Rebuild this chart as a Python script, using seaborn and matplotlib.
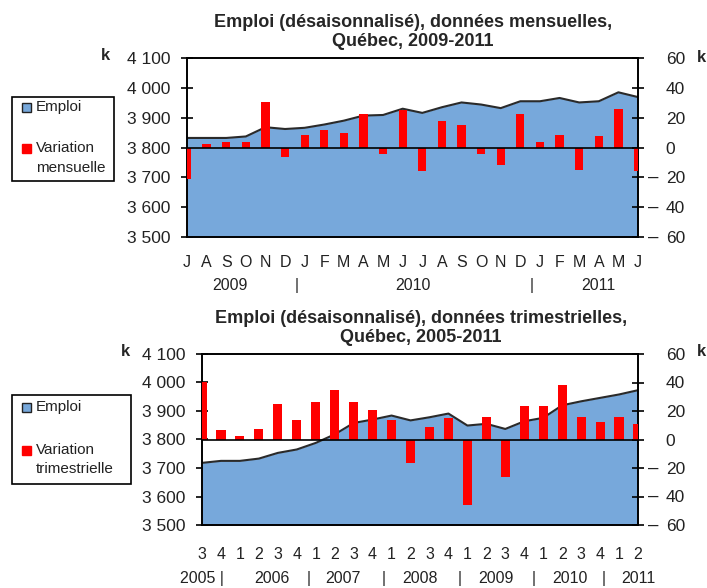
import numpy as np
import pandas as pd
import matplotlib
matplotlib.use("Agg")
import matplotlib.pyplot as plt
import seaborn as sns
from matplotlib.patches import Rectangle
from matplotlib.ticker import FuncFormatter

# --- données mensuelles (juil. 2009 - juin 2011) ---
mois = ["J", "A", "S", "O", "N", "D", "J", "F", "M", "A", "M", "J",
        "J", "A", "S", "O", "N", "D", "J", "F", "M", "A", "M", "J"]
emploi_m = [3832, 3832, 3832, 3837, 3868, 3862, 3866, 3877, 3890, 3907, 3909, 3930,
            3916, 3935, 3951, 3944, 3932, 3955, 3955, 3966, 3951, 3955, 3985, 3969]
variation_m = [-21, 2.2, 3.6, 3.6, 30.6, -6.7, 8.3, 11.8, 9.4, 22.3, -4.5, 25,
               -16, 17.7, 15.4, -4.5, -11.4, 22.3, 3.6, 8.3, -15, 7.4, 26, -16]
annees_m = [(2.2, "2009"), (5.6, "|"), (11.5, "2010"), (17.6, "|"), (21.0, "2011")]

# --- données trimestrielles (T3 2005 - T2 2011) ---
trim = ["3", "4", "1", "2", "3", "4", "1", "2", "3", "4", "1", "2",
        "3", "4", "1", "2", "3", "4", "1", "2", "3", "4", "1", "2"]
emploi_t = [3718, 3725, 3725, 3733, 3753, 3765, 3788, 3818, 3858, 3870, 3884, 3867,
            3878, 3891, 3849, 3855, 3837, 3864, 3876, 3920, 3934, 3946, 3958, 3973]
variation_t = [40.2, 6.5, 2.8, 7.5, 24.6, 13.8, 26, 34.4, 26, 20.8, 13.8, -16.8,
               8.9, 15, -46, 15.9, -26.4, 23.4, 23.4, 38, 15.9, 12.4, 15.9, 11.2]
annees_t = [(0.0, "2005 |"), (3.7, "2006"), (5.6, "|"), (7.45, "2007"), (9.6, "|"),
            (11.5, "2008"), (13.6, "|"), (15.5, "2009"), (17.5, "|"), (19.4, "2010"),
            (21.2, "|"), (23.0, "2011")]

BLEU = "#77a8db"
ROUGE = "#ff0000"
TXT = "#222222"
W, H = 707, 588

sns.set_style("white")
plt.rcParams["font.family"] = ["Liberation Sans", "DejaVu Sans"]

fig = plt.figure(figsize=(W / 100, H / 100), dpi=100)


def fx(px):
    return px / W


def fy(py):
    return 1 - py / H


def legende(box, items):
    # box = (x0, y0, x1, y1) en pixels ; items = (couleur, bord, y carré, [(y, texte)])
    x0, y0, x1, y1 = box
    fig.patches.append(Rectangle((fx(x0), fy(y1)), fx(x1 - x0), (y1 - y0) / H,
                                 transform=fig.transFigure, fill=False,
                                 edgecolor="black", lw=1.2))
    for coul, bord, ysq, textes in items:
        fig.patches.append(Rectangle((fx(x0 + 10), fy(ysq + 4.5)), fx(9), 9 / H,
                                     transform=fig.transFigure, facecolor=coul,
                                     edgecolor=bord, lw=1))
        for yt, t in textes:
            fig.text(fx(x0 + 24), fy(yt), t, ha="left", va="center",
                     fontsize=11, color=TXT)


def panneau(rect, emploi, variation, labels, annees, bar_w, pad_x, year_y):
    ax = fig.add_axes(rect)
    n = len(emploi)
    df = pd.DataFrame({"x": np.arange(n), "emploi": emploi, "variation": variation})

    ax.fill_between(df["x"], 3500, df["emploi"], color=BLEU, lw=0, zorder=1)
    sns.lineplot(data=df, x="x", y="emploi", ax=ax, color="#2a2a2a", lw=1.5, zorder=2)
    ax.set_ylim(3500, 4100)
    ax.set_yticks(np.arange(3500, 4101, 100))
    ax.yaxis.set_major_formatter(FuncFormatter(lambda v, p: f"{int(v):,}".replace(",", " ")))
    ax.set_xlim(0, n - 1)
    ax.set_xticks(np.arange(n))
    ax.set_xticklabels(labels)
    ax.set_xlabel("")
    ax.set_ylabel("")

    ax2 = ax.twinx()
    sns.barplot(data=df, x="x", y="variation", ax=ax2, color=ROUGE, width=bar_w,
                saturation=1, native_scale=True, linewidth=0, zorder=3)
    ax2.axhline(0, color="black", lw=1.2, zorder=4)
    ax2.set_ylim(-60, 60)
    ax2.set_yticks(np.arange(-60, 61, 20))
    ax2.yaxis.set_major_formatter(FuncFormatter(lambda v, p: f"{abs(int(v))}"))
    ax2.set_xlim(0, n - 1)
    ax2.set_xticks(np.arange(n))
    ax2.set_xlabel("")
    ax2.set_ylabel("")

    for a in (ax, ax2):
        for s in a.spines.values():
            s.set_color("black")
            s.set_linewidth(1.2)
        a.tick_params(direction="inout", length=8, width=1.2, colors="black",
                      labelsize=12.5, labelcolor=TXT)
    ax.tick_params(axis="y", pad=8)
    ax.tick_params(axis="x", pad=pad_x, labelsize=11.5)
    ax2.yaxis.tick_right()
    ax2.tick_params(axis="y", pad=16)

    # signe moins décalé à gauche des valeurs négatives
    for v in (-60, -40, -20):
        ax2.text(1.0 + 10 / (rect[2] * W), v, "\u2013", transform=ax2.get_yaxis_transform(),
                 ha="left", va="center", fontsize=13.5, color=TXT)

    for xv, txt in annees:
        ax.text(xv, year_y, txt, transform=ax.get_xaxis_transform(),
                ha="center", va="center", fontsize=11.5, color=TXT)
    return ax


panneau([fx(187), fy(237), fx(451), 179 / H], emploi_m, variation_m,
        mois, annees_m, 0.42, 9, -0.272)
panneau([fx(202), fy(525), fx(436), 171 / H], emploi_t, variation_t,
        trim, annees_t, 0.48, 12, -0.31)

fig.text(fx(413), fy(32),
         "Emploi (désaisonnalisé), données mensuelles,\nQuébec, 2009-2011",
         ha="center", va="center", fontsize=13, fontweight="bold", linespacing=1.15)
fig.text(fx(421), fy(328),
         "Emploi (désaisonnalisé), données trimestrielles,\nQuébec, 2005-2011",
         ha="center", va="center", fontsize=13, fontweight="bold", linespacing=1.15)

for (xk, yk) in [(105, 56), (701, 57), (125, 352), (701, 352)]:
    fig.text(fx(xk), fy(yk), "k", ha="center", va="center",
             fontsize=12, fontweight="bold")

legende((12, 97, 114, 181),
        [(BLEU, TXT, 107, [(107, "Emploi")]),
         (ROUGE, ROUGE, 148, [(148, "Variation"), (168, "mensuelle")])])
legende((12, 395, 131, 484),
        [(BLEU, TXT, 407, [(407, "Emploi")]),
         (ROUGE, ROUGE, 450, [(450, "Variation"), (469, "trimestrielle")])])

fig.savefig("out.png", dpi=100)
